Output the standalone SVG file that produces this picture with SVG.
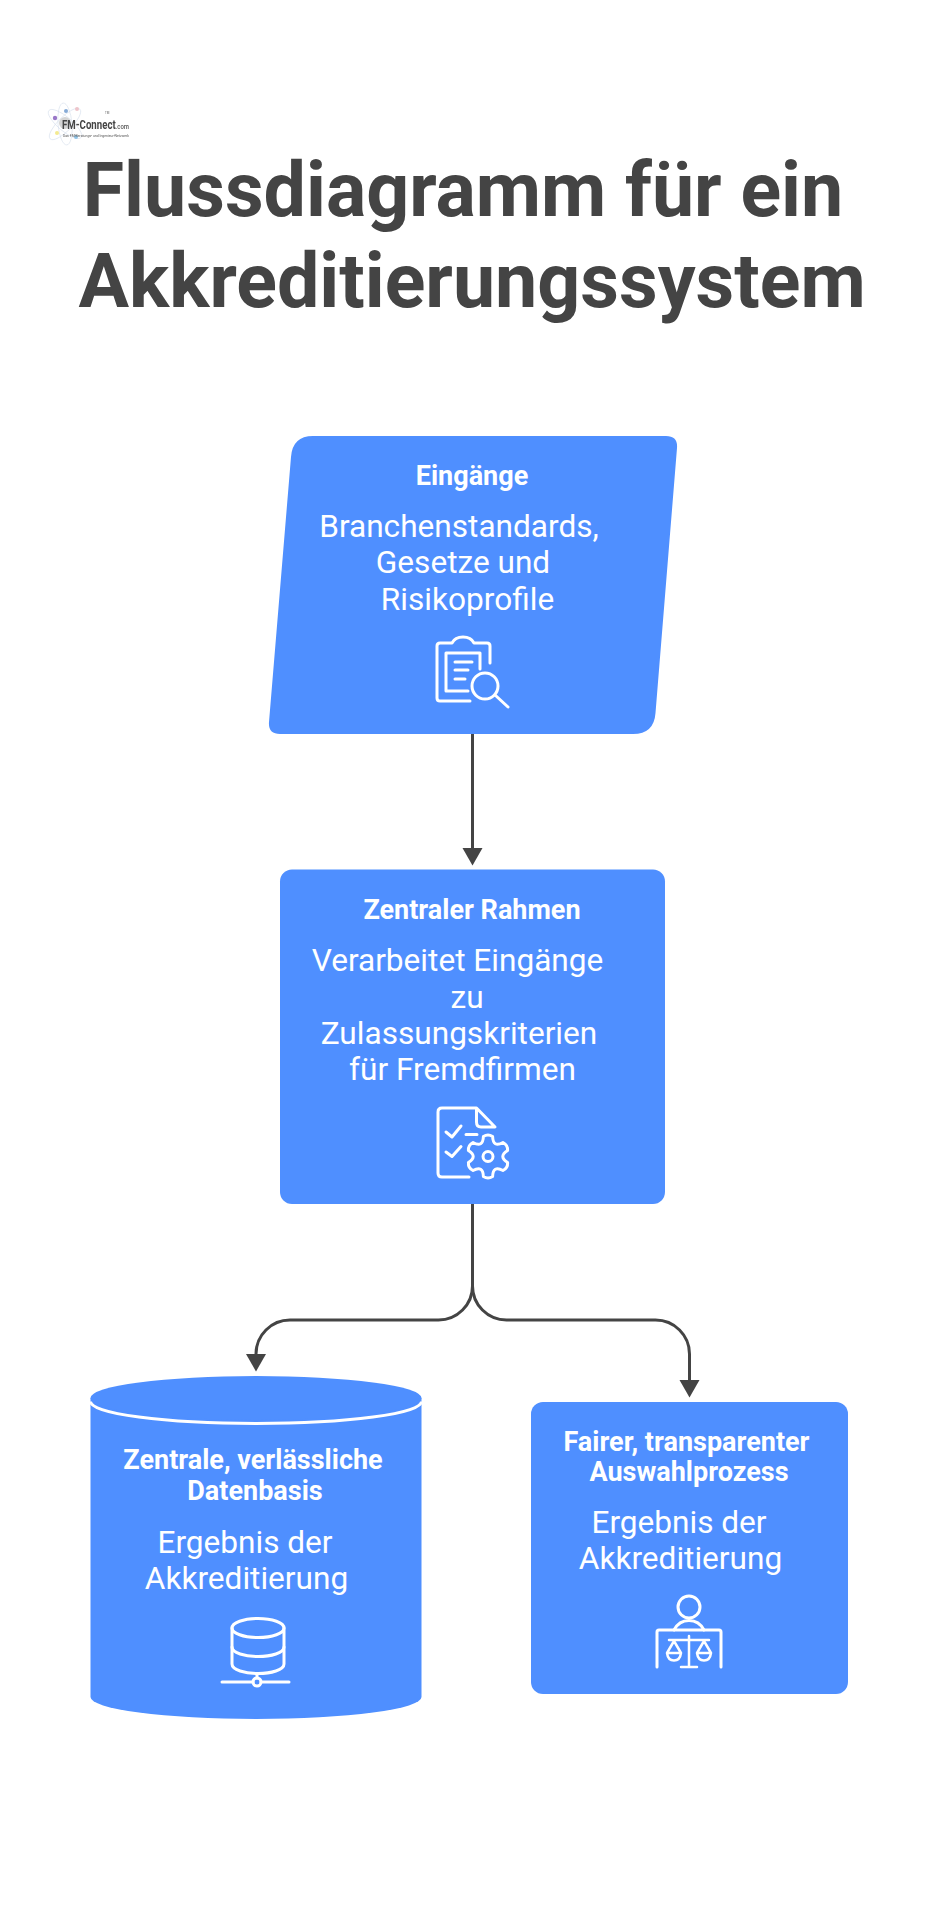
<svg xmlns="http://www.w3.org/2000/svg" width="946" height="1920" viewBox="0 0 946 1920">
<style>
text{font-family:Roboto,"Liberation Sans",sans-serif}
.t{font-size:75.300px;font-weight:700;fill:#444;text-anchor:middle}
.h{font-size:27px;font-weight:700;fill:#fff;text-anchor:middle}
.b{font-size:31.600px;font-weight:400;fill:#fff;text-anchor:middle}
.n{fill:#4f8fff}
.i{fill:none;stroke:#fff;stroke-width:3;stroke-linecap:round;stroke-linejoin:round}
.c{fill:none;stroke:#444;stroke-width:3}
.o{fill:none;stroke:#d5deec;stroke-width:.6}
</style>
<defs>
<marker id="a" markerUnits="userSpaceOnUse" markerWidth="19" markerHeight="22" refX="0" refY="11" orient="auto"><path d="M0 1 L17.500 11 L0 21 Z" fill="#444"/></marker>
<filter id="s" x="-5%" y="-5%" width="110%" height="110%"><feGaussianBlur stdDeviation="0.450"/></filter>
</defs>
<rect width="946" height="1920" fill="#fff"/>
<g id="logo" filter="url(#s)">
<ellipse class="o" cx="65" cy="124" rx="21" ry="7" transform="rotate(40 65 124)"/>
<ellipse class="o" cx="65" cy="124" rx="21" ry="7" transform="rotate(-45 65 124)"/>
<ellipse class="o" cx="65" cy="124" rx="21" ry="7" transform="rotate(85 65 124)"/>
<circle cx="65" cy="123" r="6" fill="#d4d4d4"/>
<circle cx="55" cy="118" r="2.200" fill="#9a78c8"/>
<circle cx="66" cy="111" r="2" fill="#86aad6"/>
<circle cx="77" cy="109" r="2" fill="#eec4ca"/>
<circle cx="57" cy="133" r="2" fill="#f4ea90"/>
<circle cx="76" cy="137" r="2" fill="#90c4e8"/>
<text x="62" y="129" font-size="13" font-weight="700" fill="#444" textLength="67" lengthAdjust="spacingAndGlyphs">FM-Connect<tspan font-size="8" font-weight="500" fill="#555">.com</tspan></text>
<text x="105" y="114" font-size="3" fill="#666">TM</text>
<text x="63" y="136.500" font-size="3.500" fill="#555" textLength="66" lengthAdjust="spacingAndGlyphs">Das FM-Beratungs- und Ingenieur-Netzwerk</text>
</g>
<g id="title">
<text class="t" x="463" y="216">Flussdiagramm für ein</text>
<text class="t" x="472" y="307">Akkreditierungssystem</text>
</g>
<g id="connectors">
<path class="c" d="M472.500 734 V848" marker-end="url(#a)"/>
<path class="c" d="M472.500 1204 V1286 A34 34 0 0 1 438.500 1320 H290 A34 34 0 0 0 256 1354" marker-end="url(#a)"/>
<path class="c" d="M472.500 1286 A34 34 0 0 0 506.500 1320 H655.500 A34 34 0 0 1 689.500 1354 V1380" marker-end="url(#a)"/>
</g>
<g id="node-eingaenge">
<path class="n" d="M313 436 H666 Q678 436 677 448 L655.500 713 Q654 734 633 734 H280 Q268 734 269 722 L291 457 Q292.500 436 313 436 Z"/>
<text class="h" x="472" y="485">Eingänge</text>
<text class="b" x="459" y="537">Branchenstandards,</text>
<text class="b" x="463" y="573">Gesetze und</text>
<text class="b" x="467.500" y="610">Risikoprofile</text>
<g class="i">
<path d="M470 701 H440 Q437 701 437 698 V646 Q437 643 440 643 H452 Q455 637 463 637 Q471 637 474 643 H487 Q490 643 490 646 V663"/>
<path d="M468 691 H446 V653 H480 V669"/>
<path d="M455 662 H472 M455 670 H468 M455 679 H465"/>
<circle cx="485" cy="686" r="13"/>
<path d="M495 695 L508 707"/>
</g>
</g>
<g id="node-rahmen">
<rect class="n" x="280" y="869.500" width="385" height="334.500" rx="12"/>
<text class="h" x="472" y="918.500">Zentraler Rahmen</text>
<text class="b" x="457.500" y="971">Verarbeitet Eingänge</text>
<text class="b" x="467" y="1007.500">zu</text>
<text class="b" x="459" y="1044">Zulassungskriterien</text>
<text class="b" x="462.500" y="1079.500">für Fremdfirmen</text>
<g class="i">
<path d="M469 1177 H442 Q438 1177 438 1173 V1112 Q438 1108 442 1108 H476.500 L495 1127 H481 Q476.500 1127 476.500 1122 V1108"/>
<path d="M446 1132 L452 1137 L461 1126 M446 1152 L452 1156.500 L461 1146.500 M466 1134.500 H477"/>
<circle cx="488" cy="1156.500" r="5"/>
<path transform="translate(488 1156.500)" d="M-4.610 -19.970 Q0 -23 4.610 -19.970 Q5 -8.660 14.990 -13.980 Q19.920 -11.500 19.600 -5.990 Q10 0 19.600 5.990 Q19.920 11.500 14.990 13.980 Q5 8.660 4.610 19.970 Q0 23 -4.610 19.970 Q-5 8.660 -14.990 13.980 Q-19.920 11.500 -19.600 5.990 Q-10 0 -19.600 -5.990 Q-19.920 -11.500 -14.990 -13.980 Q-5 -8.660 -4.610 -19.970 Z"/>
</g>
</g>
<g id="node-datenbasis">
<path class="n" d="M90.500 1398 V1697 A165.500 22 0 0 0 421.500 1697 V1398 Z"/>
<path d="M90.500 1401.500 A165.500 22 0 0 0 421.500 1401.500" fill="none" stroke="#fff" stroke-width="3"/>
<ellipse class="n" cx="256" cy="1398" rx="165.500" ry="22"/>
<text class="h" x="253" y="1469">Zentrale, verlässliche</text>
<text class="h" x="255" y="1500">Datenbasis</text>
<text class="b" x="245" y="1553">Ergebnis der</text>
<text class="b" x="246.500" y="1589">Akkreditierung</text>
<g class="i">
<ellipse cx="258" cy="1628" rx="26" ry="9.500"/>
<path d="M232 1628 V1664 C232 1670 245 1673.500 258 1673.500 C271 1673.500 284 1670 284 1664 V1628"/>
<path d="M232 1647 C232 1653 245 1656.500 258 1656.500 C271 1656.500 284 1653 284 1647"/>
<path d="M257 1674 V1678 M222 1682 H253 M261 1682 H289"/>
<circle cx="257" cy="1682" r="4"/>
</g>
</g>
<g id="node-auswahl">
<rect class="n" x="531" y="1402" width="317" height="292" rx="12"/>
<text class="h" x="686.500" y="1451">Fairer, transparenter</text>
<text class="h" x="689" y="1481">Auswahlprozess</text>
<text class="b" x="679" y="1533">Ergebnis der</text>
<text class="b" x="680.500" y="1569">Akkreditierung</text>
<g class="i">
<circle cx="689" cy="1607" r="11"/>
<path d="M674 1630 Q679 1620.500 689 1620.500 Q699 1620.500 704 1630"/>
<path d="M657 1667 V1632 Q657 1630 659 1630 H719 Q721 1630 721 1632 V1667"/>
<path d="M669 1640 H709 M689 1636 V1667 M681 1667 H697" stroke-width="2.500"/>
<path d="M674 1641 L667 1653 H681 Z M667 1653 Q668 1660.500 674 1660.500 Q680 1660.500 681 1653 M704 1641 L697 1653 H711 Z M697 1653 Q698 1660.500 704 1660.500 Q710 1660.500 711 1653" stroke-width="2.500"/>
</g>
</g>
</svg>
